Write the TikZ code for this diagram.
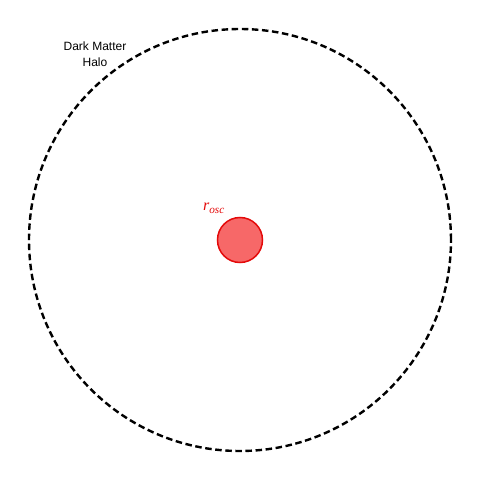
\documentclass[tikz,border=0pt]{standalone}
\usepackage{fontspec}
\setmainfont{Liberation Sans}
\newfontfamily\mathlike{Liberation Serif}
\usepackage{tikz}
\usetikzlibrary{positioning}

\definecolor{oscfill}{RGB}{247,104,104}
\definecolor{oscline}{RGB}{228,10,10}

\begin{document}
\begin{tikzpicture}[
    x=1pt, y=1pt,
    halo/.style={circle, draw=black, line width=2.4pt, dash pattern=on 6.5pt off 3.6pt, minimum size=422pt, inner sep=0pt},
    core/.style={circle, draw=oscline, fill=oscfill, line width=1.5pt, minimum size=45pt, inner sep=0pt},
    lbl/.style={align=center, font=\fontsize{12}{16}\selectfont}
]
    \useasboundingbox (-240,-240) rectangle (240,240);

    % Halo
    \node[lbl] (halotext) at (-145,186) {Dark Matter\\Halo};
    \node[halo] (dmhalo) at (0,0) {};

    % Oscillation core
    \node[core] (osc) at (0,0) {};
    \node[text=oscline, font=\mathlike\itshape\fontsize{16}{18}\selectfont] (osctext) at (-26,32) {r\textsubscript{osc}};
\end{tikzpicture}
\end{document}
